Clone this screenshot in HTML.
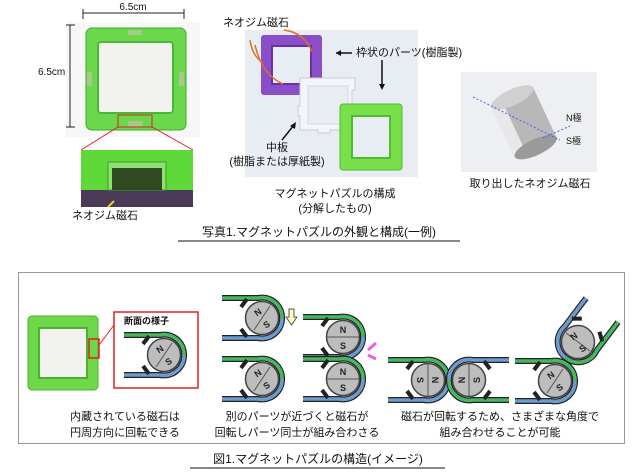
<!DOCTYPE html>
<html><head><meta charset="utf-8"><style>
body{margin:0;width:640px;height:475px;background:#fff;position:relative;overflow:hidden;font-family:"Liberation Sans","Noto Sans CJK JP",sans-serif;color:#111}
.t{position:absolute;font-size:11px;white-space:nowrap;line-height:1}
.c{transform:translateX(-50%);text-align:center}
</style></head><body>
<svg width="640" height="475" style="position:absolute;left:0;top:0">
<defs>
<pattern id="gh" width="3" height="3" patternUnits="userSpaceOnUse"><rect width="3" height="3" fill="#4fc36a"/><path d="M0 3L3 0" stroke="#2f8f45" stroke-width="0.6"/></pattern>
<pattern id="bh" width="3" height="3" patternUnits="userSpaceOnUse"><rect width="3" height="3" fill="#7aa6d8"/><path d="M0 3L3 0" stroke="#4a78b0" stroke-width="0.6"/></pattern>
<g id="u">
 <path d="M-40,-20 L-4,-20 A20,20 0 0 1 20,0" fill="none" stroke="#222" stroke-width="6"/>
 <path d="M-40,-20 L-4,-20 A20,20 0 0 1 20,0" fill="none" stroke="url(#gh)" stroke-width="3.6"/>
 <path d="M-40,20 L-4,20 A20,20 0 0 0 20,0" fill="none" stroke="#222" stroke-width="6"/>
 <path d="M-40,20 L-4,20 A20,20 0 0 0 20,0" fill="none" stroke="url(#bh)" stroke-width="3.6"/>
 <path d="M-15,-19 L-21,-11 M-15,19 L-21,11" stroke="#222" stroke-width="4"/>
 <circle r="16.5" fill="#bdbdbd" stroke="#444" stroke-width="1.5"/>
</g>
</defs>
<rect x="66" y="22" width="134" height="115" fill="#f7f7f7"/>
<rect x="86" y="28" width="100" height="102" rx="6" fill="#6ad84a" stroke="#3fae2a"/>
<rect x="98" y="42" width="75" height="71" rx="3" fill="#f2f2ee" stroke="#48b838" stroke-width="2"/>
<rect x="128" y="30" width="14" height="5" fill="#a9c98a"/><rect x="128" y="121" width="14" height="6" fill="#a9c98a"/>
<rect x="87" y="72" width="5" height="14" fill="#a9c98a"/><rect x="179" y="72" width="5" height="14" fill="#a9c98a"/>
<line x1="83" y1="13" x2="184" y2="13" stroke="#222"/><line x1="83" y1="9" x2="83" y2="19" stroke="#222"/><line x1="184" y1="9" x2="184" y2="19" stroke="#222"/>
<line x1="70" y1="25" x2="70" y2="127" stroke="#222"/><line x1="66" y1="25" x2="75" y2="25" stroke="#222"/><line x1="66" y1="127" x2="75" y2="127" stroke="#222"/>
<rect x="118" y="115" width="34" height="12" fill="none" stroke="#e02020"/>
<line x1="118" y1="127" x2="81" y2="150" stroke="#e02020"/><line x1="152" y1="127" x2="193" y2="150" stroke="#e02020"/>
<rect x="81" y="150" width="112" height="45" fill="#5fd83a"/>
<rect x="81" y="190" width="112" height="17" fill="#4a3a58"/>
<rect x="108" y="162" width="58" height="28" fill="#8fe070" stroke="#3aa020"/>
<rect x="112" y="168" width="50" height="22" fill="#2f4a20"/>
<line x1="114" y1="201" x2="108" y2="207" stroke="#f0d020" stroke-width="2"/>
<rect x="245" y="30" width="173" height="147" fill="#e8ecf3"/>
<rect x="261" y="35" width="61" height="60" rx="3" fill="#8a4fc8"/><rect x="272" y="46" width="39" height="38" fill="#e8ecf3" stroke="#6a30a8" stroke-width="2"/>
<path d="M300,78 h55 v12 h-3 v26 h3 v14 h-25 v3 h-12 v-3 h-18 v-14 h-2 v-10 h2 z" fill="#f4f5f8" stroke="#c8ccd4"/>
<rect x="308" y="86" width="40" height="38" fill="#e8ecf3" stroke="#d4d8e0"/>
<rect x="340" y="104" width="62" height="66" rx="3" fill="#7ae04a" stroke="#4cbc30"/><rect x="352" y="116" width="38" height="42" fill="#e8ecf3" stroke="#4cbc30" stroke-width="2"/>
<path d="M284,30 Q305,33 312,52" fill="none" stroke="#e07020" stroke-width="1.5"/>
<path d="M250,40 Q252,55 262,62" fill="none" stroke="#e07020" stroke-width="1.5"/>
<path d="M255,45 Q262,75 283,84" fill="none" stroke="#e07020" stroke-width="1.5"/>
<line x1="352" y1="53" x2="336" y2="53" stroke="#111" stroke-width="1.5"/><path d="M336,53 l5,-3 v6z" fill="#111"/>
<line x1="382" y1="60" x2="382" y2="88" stroke="#111" stroke-width="1.5"/><path d="M382,90 l-3,-6 h6z" fill="#111"/>
<line x1="282" y1="140" x2="294" y2="125" stroke="#111" stroke-width="1.5"/><path d="M296,122 l-1,7 -5,-3z" fill="#111"/>
<rect x="461" y="72" width="136" height="100" fill="#eeeff2"/>
<g transform="rotate(-25 523 120)"><rect x="500" y="95" width="46" height="55" fill="#b8b8b8"/><rect x="500" y="95" width="12" height="55" fill="#e8e8e8"/><ellipse cx="523" cy="150" rx="23" ry="8" fill="#9a9a9a"/><ellipse cx="523" cy="95" rx="23" ry="8" fill="#d0d0d0"/></g>
<line x1="473" y1="97" x2="560" y2="140" stroke="#5060e0" stroke-dasharray="2,2"/>
<line x1="543" y1="138" x2="570" y2="126" stroke="#5060e0" stroke-dasharray="2,2"/>
<line x1="178" y1="241" x2="460" y2="241" stroke="#111"/>
<line x1="190" y1="468" x2="445" y2="468" stroke="#111"/>
<rect x="18.5" y="272.5" width="606" height="171" fill="#fff" stroke="#999"/>
<rect x="28" y="316" width="70" height="74" rx="4" fill="#6fd84a" stroke="#4cb030"/>
<rect x="39" y="328" width="48" height="50" fill="#f2f2ee" stroke="#4cb030" stroke-width="2"/>
<rect x="89" y="339" width="10" height="19" fill="none" stroke="#e02020" stroke-width="1.5"/>
<line x1="99" y1="345" x2="114" y2="325" stroke="#e02020"/>
<rect x="114" y="312" width="84" height="76" fill="none" stroke="#e02020" stroke-width="1.5"/>
<use href="#u" x="164" y="355"/>
<line x1="172" y1="343" x2="156" y2="367" stroke="#555"/>
<use href="#u" x="262" y="318"/><line x1="270" y1="306" x2="254" y2="330" stroke="#555"/>
<use href="#u" x="262" y="379"/><line x1="270" y1="367" x2="254" y2="391" stroke="#555"/>
<use href="#u" x="343" y="337"/><line x1="327" y1="337" x2="359" y2="337" stroke="#555"/>
<use href="#u" x="343" y="379"/><line x1="327" y1="379" x2="359" y2="379" stroke="#555"/>
<path d="M289,309 h5 v8 h3 l-5.5,8 -5.5,-8 h3z" fill="#fff8c0" stroke="#555"/>
<path d="M376,343 l-8,7 M376,359 l-8,-4" stroke="#f060e0" stroke-width="3"/>
<use href="#u" x="428" y="380"/><line x1="428" y1="364" x2="428" y2="396" stroke="#555"/>
<g transform="translate(469 380) scale(-1 -1)"><use href="#u"/></g><line x1="469" y1="364" x2="469" y2="396" stroke="#555"/>
<use href="#u" x="555" y="381"/><line x1="563" y1="369" x2="547" y2="393" stroke="#555"/>
<g transform="translate(578 342) rotate(127)"><use href="#u"/></g><line x1="590" y1="351" x2="566" y2="333" stroke="#555"/>
</svg>
<div class="t c" style="left:133px;top:3px;font-size:10px">6.5cm</div>
<div class="t" style="left:38px;top:68px;font-size:10px">6.5cm</div>
<div class="t" style="left:72px;top:211px">ネオジム磁石</div>
<div class="t" style="left:223px;top:18px">ネオジム磁石</div>
<div class="t" style="left:356px;top:48px">枠状のパーツ(樹脂製)</div>
<div class="t c" style="left:277px;top:143px">中板</div>
<div class="t c" style="left:277px;top:157px">(樹脂または厚紙製)</div>
<div class="t c" style="left:335px;top:189px">マグネットパズルの構成</div>
<div class="t c" style="left:335px;top:204px">(分解したもの)</div>
<div class="t" style="left:566px;top:114px;font-size:9px">N極</div>
<div class="t" style="left:566px;top:137px;font-size:9px">S極</div>
<div class="t c" style="left:530px;top:179px">取り出したネオジム磁石</div>
<div class="t c" style="left:319px;top:226px;font-size:12px">写真1.マグネットパズルの外観と構成(一例)</div>
<div class="t" style="left:124px;top:317px;font-size:9px;font-weight:bold">断面の様子</div>
<div class="t c" style="left:125px;top:412px">内蔵されている磁石は</div>
<div class="t c" style="left:125px;top:428px">円周方向に回転できる</div>
<div class="t c" style="left:297px;top:412px">別のパーツが近づくと磁石が</div>
<div class="t c" style="left:297px;top:428px">回転しパーツ同士が組み合わさる</div>
<div class="t c" style="left:500px;top:412px">磁石が回転するため、さまざまな角度で</div>
<div class="t c" style="left:500px;top:428px">組み合わせることが可能</div>
<div class="t c" style="left:318px;top:453px;font-size:12px">図1.マグネットパズルの構造(イメージ)</div>
<svg width="640" height="475" style="position:absolute;left:0;top:0" font-family="Liberation Sans" font-size="9" font-weight="bold" fill="#222" text-anchor="middle">
<g transform="rotate(-35 164 355)"><text x="164" y="351">N</text><text x="164" y="366">S</text></g>
<g transform="rotate(-35 262 318)"><text x="262" y="314">N</text><text x="262" y="329">S</text></g>
<g transform="rotate(-35 262 379)"><text x="262" y="375">N</text><text x="262" y="390">S</text></g>
<text x="343" y="333">N</text><text x="343" y="349">S</text>
<text x="343" y="375">N</text><text x="343" y="391">S</text>
<g transform="rotate(90 428 380)"><text x="428" y="376">N</text><text x="428" y="391">S</text></g>
<g transform="rotate(-90 469 380)"><text x="469" y="376">N</text><text x="469" y="391">S</text></g>
<g transform="rotate(-35 555 381)"><text x="555" y="377">N</text><text x="555" y="392">S</text></g>
<g transform="rotate(-35 578 342)"><text x="578" y="338">N</text><text x="578" y="353">S</text></g>
</svg>
</body></html>
